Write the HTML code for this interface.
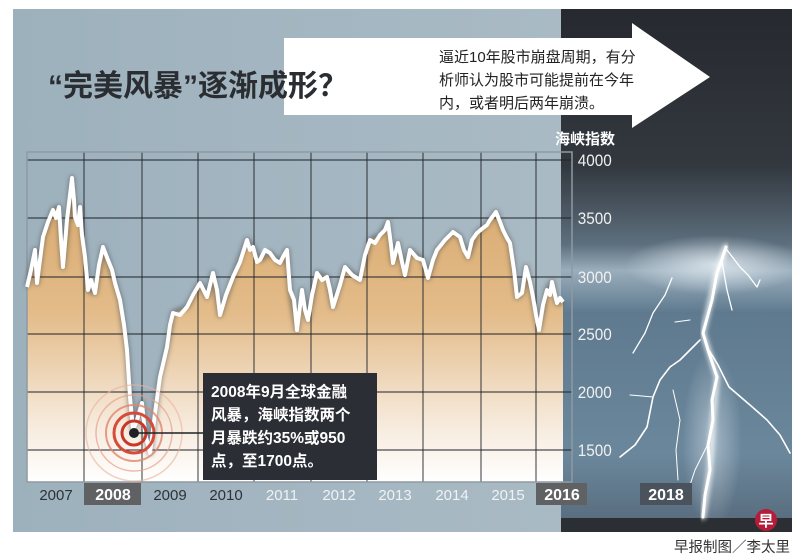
<!DOCTYPE html>
<html><head><meta charset="utf-8"><style>
html,body{margin:0;padding:0;background:#fff;width:800px;height:560px;overflow:hidden}
svg{display:block}
text{font-family:"Liberation Sans","Noto Sans CJK SC",sans-serif}
</style></head><body>
<svg width="800" height="560" viewBox="0 0 800 560" xmlns="http://www.w3.org/2000/svg">
<defs>
<linearGradient id="bg" x1="0" y1="0" x2="1" y2="0">
<stop offset="0" stop-color="#9db1bd"/><stop offset="1" stop-color="#a9bac4"/>
</linearGradient>
<linearGradient id="sky" x1="0" y1="0" x2="0" y2="1">
<stop offset="0" stop-color="#26292f"/><stop offset="0.3" stop-color="#33383f"/>
<stop offset="0.45" stop-color="#5d6f7e"/><stop offset="0.5" stop-color="#9aaebc"/>
<stop offset="0.58" stop-color="#5f7a8f"/><stop offset="0.85" stop-color="#6b879c"/>
<stop offset="1" stop-color="#56697a"/>
</linearGradient>
<linearGradient id="fill" x1="0" y1="0" x2="0" y2="1">
<stop offset="0" stop-color="#d8a86c"/><stop offset="0.45" stop-color="#e3bc8a"/>
<stop offset="0.8" stop-color="#f6e9da"/><stop offset="1" stop-color="#ffffff"/>
</linearGradient>
<radialGradient id="glow" cx="0.5" cy="0.5" r="0.5">
<stop offset="0" stop-color="#e8f0f6" stop-opacity="0.8"/><stop offset="1" stop-color="#e8f0f6" stop-opacity="0"/>
</radialGradient>
<filter id="sh" x="-10%" y="-10%" width="120%" height="120%"><feGaussianBlur stdDeviation="2.5"/></filter>
<filter id="lg"><feGaussianBlur stdDeviation="2"/></filter>
</defs>
<rect x="0" y="0" width="800" height="560" fill="#fff"/>
<rect x="13" y="9" width="550" height="523" fill="url(#bg)"/>
<rect x="561" y="9" width="231" height="523" fill="url(#sky)"/>
<ellipse cx="715" cy="265" rx="90" ry="30" fill="url(#glow)"/>
<ellipse cx="712" cy="440" rx="30" ry="90" fill="url(#glow)" opacity="0.6"/>
<rect x="561" y="518" width="231" height="14" fill="#2b2f33"/>

<!-- lightning -->
<g fill="none" stroke="#fff" stroke-linejoin="round" stroke-linecap="round">
<g filter="url(#lg)" stroke-width="6" opacity="0.7">
<polyline points="726,247 717,273 703,333 717,377 713,420 710,470 703,517"/>
</g>
<polyline stroke-width="3" points="726,247 721,262 717,273 712,300 703,333 708,350 717,377 712,400 713,420 708,445 710,470 705,495 703,517"/>
<polyline stroke-width="1.6" points="707,347 718,365 729,387 750,405 767,420 780,435 790,453"/>
<polyline stroke-width="1.6" points="700,340 693,347 680,360 670,367 660,380 653,397 650,412 647,427 635,445 620,457"/>
<polyline stroke-width="1.3" points="672,278 665,295 653,313 645,333 633,353"/>
<polyline stroke-width="1.3" points="727,250 740,267 748,275 757,287 760,280"/>
<polyline stroke-width="1.3" points="722,262 727,290 732,310"/>
<polyline stroke-width="1" points="673,390 680,420 676,450 678,480"/>
<polyline stroke-width="1" points="710,440 695,470 685,500"/>
<polyline stroke-width="1" points="690,320 675,322"/>
<polyline stroke-width="1" points="653,397 630,395"/>
</g>

<!-- plot fill and line -->
<polygon fill="url(#fill)" points="27,287 35,250 37,283 43,237 53,210 59,207 63,267 72,178 75,217 80,207 85,257 88,290 95,293 103,247 108,260 115,283 120,300 127,350 130,397 133,430 142,403 145,433 150,453 155,413 160,377 167,347 173,313 187,307 200,283 207,297 213,273 220,315 233,277 247,240 253,247 260,260 270,253 280,263 287,250 290,290 297,330 302,290 308,320 317,273 327,277 333,307 345,267 360,280 370,240 380,235 388,222 393,263 398,243 405,275 410,250 423,260 428,278 437,250 453,232 460,237 468,257 477,233 483,228 490,220 496,212 503,230 510,243 517,297 522,293 526,267 533,297 539,330 547,290 552,282 557,303 563,302 563,482 27,482"/>

<!-- grid -->
<g stroke="#1e2226" stroke-width="0.9" fill="none">
<line x1="27" y1="160" x2="572" y2="160"/>
<line x1="27" y1="218" x2="572" y2="218"/>
<line x1="27" y1="277" x2="572" y2="277"/>
<line x1="27" y1="334" x2="572" y2="334"/>
<line x1="27" y1="392" x2="572" y2="392"/>
<line x1="27" y1="450" x2="572" y2="450"/>
<line x1="84" y1="152" x2="84" y2="482"/>
<line x1="142" y1="152" x2="142" y2="482"/>
<line x1="198" y1="152" x2="198" y2="482"/>
<line x1="254" y1="152" x2="254" y2="482"/>
<line x1="311" y1="152" x2="311" y2="482"/>
<line x1="367" y1="152" x2="367" y2="482"/>
<line x1="423" y1="152" x2="423" y2="482"/>
<line x1="481" y1="152" x2="481" y2="482"/>
<line x1="536" y1="152" x2="536" y2="482"/>
</g>
<rect x="27" y="152" width="545" height="330" fill="none" stroke="#8f9aa2" stroke-width="1.5"/>

<g fill="none" stroke-linejoin="round">
<polyline filter="url(#sh)" stroke="#4a4a4a" stroke-width="5" opacity="0.6" points="27,287 35,250 37,283 43,237 53,210 59,207 63,267 72,178 75,217 80,207 85,257 88,290 95,293 103,247 108,260 115,283 120,300 127,350 130,397 133,430 142,403 145,433 150,453 155,413 160,377 167,347 173,313 187,307 200,283 207,297 213,273 220,315 233,277 247,240 253,247 260,260 270,253 280,263 287,250 290,290 297,330 302,290 308,320 317,273 327,277 333,307 345,267 360,280 370,240 380,235 388,222 393,263 398,243 405,275 410,250 423,260 428,278 437,250 453,232 460,237 468,257 477,233 483,228 490,220 496,212 503,230 510,243 517,297 522,293 526,267 533,297 539,330 547,290 552,282 557,303 563,302"/>
<polyline stroke="#ffffff" stroke-width="4" points="27,287 31,270 35,250 37,283 40,260 43,237 48,222 53,210 56,218 59,207 61,240 63,267 67,220 70,195 72,178 74,200 75,217 78,225 80,207 82,235 85,257 88,290 91,280 95,293 99,265 103,247 108,260 112,270 115,283 120,300 124,325 127,350 130,397 133,430 137,420 142,403 145,433 150,453 153,430 155,413 160,377 164,360 167,347 170,325 173,313 180,315 187,307 193,295 200,283 207,297 213,273 217,290 220,315 226,295 233,277 240,262 247,240 250,250 253,247 257,262 260,260 265,250 270,253 275,260 280,263 284,255 287,250 290,290 294,300 297,330 302,290 305,310 308,320 312,295 317,273 322,280 327,277 330,290 333,307 340,285 345,267 352,275 360,280 365,255 370,240 375,243 380,235 385,230 388,222 391,245 393,263 398,243 402,262 405,275 410,250 417,258 423,260 428,278 433,260 437,250 445,240 453,232 460,237 464,250 468,257 472,240 477,233 483,228 487,225 490,220 496,212 500,222 503,230 507,238 510,243 514,270 517,297 522,293 526,267 530,282 533,297 536,315 539,330 543,305 547,290 550,295 552,282 555,295 557,303 560,298 563,302"/>
</g>

<!-- target circles -->
<g fill="none">
<circle cx="134" cy="433" r="48" stroke="#e9b2a0" stroke-width="1.5" opacity="0.6"/>
<circle cx="134" cy="433" r="38" stroke="#e6a08c" stroke-width="1.5" opacity="0.7"/>
<circle cx="134" cy="433" r="28" stroke="#e08570" stroke-width="2" opacity="0.8"/>
<circle cx="134" cy="433" r="20" stroke="#d64b3a" stroke-width="3"/>
<circle cx="134" cy="433" r="12" stroke="#c8372a" stroke-width="3"/>
</g>
<circle cx="134" cy="433" r="5" fill="#1e2226"/>
<line x1="134" y1="433" x2="204" y2="433" stroke="#1e2226" stroke-width="1.5"/>

<!-- annotation -->
<rect x="203" y="373" width="174" height="107" fill="#2b2f35"/>
<g fill="#fff" font-size="15.5" font-weight="bold">
<text x="211" y="397">2008年9月全球金融</text>
<text x="211" y="420">风暴，海峡指数两个</text>
<text x="211" y="443">月暴跌约35%或950</text>
<text x="211" y="466">点，至1700点。</text>
</g>

<!-- y axis labels -->
<g fill="#f0f0f0" font-size="17" transform="scale(0.9,1)">
<text x="642" y="166">4000</text>
<text x="642" y="224">3500</text>
<text x="642" y="283">3000</text>
<text x="642" y="340">2500</text>
<text x="642" y="398">2000</text>
<text x="642" y="456">1500</text>
</g>
<text x="555" y="144" fill="#fff" font-size="15" font-weight="bold">海峡指数</text>

<!-- x labels -->
<rect x="84" y="483" width="57" height="22" fill="#5f6163"/>
<rect x="536" y="483" width="51" height="22" fill="#5f6163"/>
<rect x="640" y="483" width="52" height="22" fill="#4a535b"/>
<g font-size="15" text-anchor="middle">
<text x="56" y="500" fill="#2e3236">2007</text>
<text x="113" y="500" fill="#fff" font-weight="bold" font-size="16">2008</text>
<text x="170" y="500" fill="#2e3236">2009</text>
<text x="226" y="500" fill="#2e3236">2010</text>
<text x="282" y="500" fill="#eef2f4">2011</text>
<text x="339" y="500" fill="#eef2f4">2012</text>
<text x="395" y="500" fill="#eef2f4">2013</text>
<text x="452" y="500" fill="#eef2f4">2014</text>
<text x="508" y="500" fill="#eef2f4">2015</text>
<text x="562" y="500" fill="#fff" font-weight="bold" font-size="16">2016</text>
<text x="666" y="500" fill="#fff" font-weight="bold" font-size="16">2018</text>
</g>

<!-- arrow -->
<polygon fill="#fff" points="284,38 632,38 632,23 710,77 632,128 632,115 284,115"/>
<g fill="#222" font-size="15">
<text x="439" y="62">逼近10年股市崩盘周期，有分</text>
<text x="439" y="85">析师认为股市可能提前在今年</text>
<text x="439" y="108">内，或者明后两年崩溃。</text>
</g>
<text x="48" y="96" fill="#2a2d31" font-size="30" font-weight="bold">“完美风暴”逐渐成形？</text>

<!-- logo & credit -->
<circle cx="766" cy="520" r="11" fill="#b51c3a"/>
<text x="766" y="526" fill="#fff" font-size="15" font-weight="bold" text-anchor="middle">早</text>
<text x="790" y="552" fill="#333" font-size="14.5" text-anchor="end">早报制图／李太里</text>
</svg>
</body></html>
